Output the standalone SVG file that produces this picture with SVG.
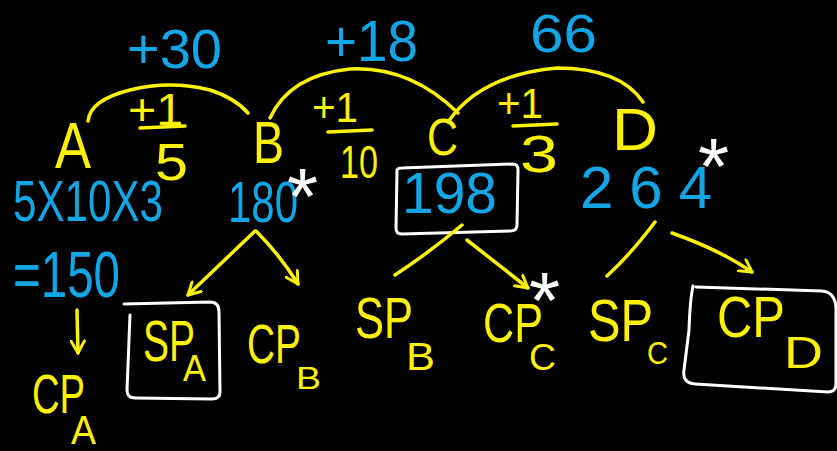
<svg xmlns="http://www.w3.org/2000/svg" width="837" height="451" viewBox="0 0 837 451">
  <defs>
    <style>
      .t { font-family: "Liberation Sans", "DejaVu Sans", sans-serif; }
      .y { fill: #FFF200; }
      .b { fill: #12A6E6; }
      .w { fill: #FFFFFF; }
      .star { font-size: 80px; }
      .ln { fill: none; stroke: #FFF200; stroke-width: 3.5; stroke-linecap: round; stroke-linejoin: round; }
      .box { fill: none; stroke: #FFFFFF; stroke-width: 3; stroke-linecap: round; stroke-linejoin: round; }
    </style>
    <marker id="head" viewBox="0 0 12 12" refX="10" refY="6" markerWidth="16" markerHeight="16" markerUnits="userSpaceOnUse" orient="auto">
      <path d="M1,1 L10,6 L1,11" fill="none" stroke="#FFF200" stroke-width="2.2" stroke-linecap="round" stroke-linejoin="round"/>
    </marker>
  </defs>

  <rect width="837" height="451" fill="#000000"/>

  <!-- increments written above the arcs -->
  <g id="inc-ab"><text class="t b" x="127" y="68" font-size="56" textLength="95" lengthAdjust="spacingAndGlyphs">+30</text></g>
  <g id="inc-bc"><text class="t b" x="325" y="61" font-size="58" textLength="93" lengthAdjust="spacingAndGlyphs">+18</text></g>
  <g id="inc-cd"><text class="t b" x="530" y="52" font-size="54" textLength="67" lengthAdjust="spacingAndGlyphs">66</text></g>

  <!-- persons and ratios -->
  <g id="node-a"><text class="t y" x="55" y="168" font-size="64" textLength="36" lengthAdjust="spacingAndGlyphs">A</text></g>
  <g id="ratio-ab">
    <text class="t y" x="128" y="125" font-size="44" textLength="55" lengthAdjust="spacingAndGlyphs">+1</text>
    <path class="ln" d="M140,128 L185,126"/>
    <text class="t y" x="155" y="180" font-size="52" textLength="33" lengthAdjust="spacingAndGlyphs">5</text>
  </g>
  <g id="node-b"><text class="t y" x="253" y="163" font-size="60" textLength="31" lengthAdjust="spacingAndGlyphs">B</text></g>
  <g id="ratio-bc">
    <text class="t y" x="312" y="122" font-size="42" textLength="46" lengthAdjust="spacingAndGlyphs">+1</text>
    <path class="ln" d="M328,132 L372,130"/>
    <text class="t y" x="340" y="178" font-size="46" textLength="38" lengthAdjust="spacingAndGlyphs">10</text>
  </g>
  <g id="node-c"><text class="t y" x="427" y="155" font-size="52" textLength="31" lengthAdjust="spacingAndGlyphs">C</text></g>
  <g id="ratio-cd">
    <text class="t y" x="497" y="118" font-size="42" textLength="46" lengthAdjust="spacingAndGlyphs">+1</text>
    <path class="ln" d="M513,126 L557,124"/>
    <text class="t y" x="520" y="172" font-size="52" textLength="38" lengthAdjust="spacingAndGlyphs">3</text>
  </g>
  <g id="node-d"><text class="t y" x="612" y="150" font-size="60" textLength="46" lengthAdjust="spacingAndGlyphs">D</text></g>

  <!-- values -->
  <g id="val-a">
    <text class="t b" x="13" y="221" font-size="58" textLength="150" lengthAdjust="spacingAndGlyphs">5X10X3</text>
    <text class="t b" x="13" y="297" font-size="64" textLength="107" lengthAdjust="spacingAndGlyphs">=150</text>
  </g>
  <g id="val-b">
    <text class="t b" x="228" y="222" font-size="58" textLength="70" lengthAdjust="spacingAndGlyphs">180</text>
    <text class="t w star" x="287" y="224">*</text>
  </g>
  <g id="val-c">
    <path class="box" d="M397,172 Q396,168 402,168 L513,164 Q518,164 518,170 L517,225 Q517,231 510,231 L402,234 Q396,234 396,228 Z"/>
    <text class="t b" x="402" y="213" font-size="58" textLength="95" lengthAdjust="spacingAndGlyphs">198</text>
  </g>
  <g id="val-d">
    <text class="t b" x="580" y="208" font-size="60" textLength="132" lengthAdjust="spacing">264</text>
    <text class="t w star" x="698" y="194">*</text>
  </g>

  <!-- connectors -->
  <g id="connectors">
    <path class="ln" d="M88,121 Q90,100 130,90 Q170,80 210,90 Q235,98 248,113"/>
    <path class="ln" d="M270,118 Q290,75 350,69 Q410,66 458,113"/>
    <path class="ln" d="M448,122 Q480,75 557,68 Q620,68 643,102"/>
    <path class="ln" d="M255,231 L188,295" marker-end="url(#head)"/>
    <path class="ln" d="M256,231 Q280,255 298,284" marker-end="url(#head)"/>
    <path class="ln" d="M462,225 Q430,252 395,275"/>
    <path class="ln" d="M467,240 L528,288" marker-end="url(#head)"/>
    <path class="ln" d="M655,222 Q630,255 607,276"/>
    <path class="ln" d="M672,233 Q720,250 752,272" marker-end="url(#head)"/>
    <path class="ln" d="M77,310 L78,353" marker-end="url(#head)"/>
  </g>

  <!-- prices -->
  <g id="cp-a">
    <text class="t y" x="32" y="413" font-size="56" textLength="53" lengthAdjust="spacingAndGlyphs">CP</text>
    <text class="t y" x="71" y="444" font-size="40" textLength="25" lengthAdjust="spacingAndGlyphs">A</text>
  </g>
  <g id="sp-a">
    <path class="box" d="M124,304 L210,302 Q219,302 219,312 L220,392 Q220,399 212,399 L135,398 Q127,398 127,390 L130,315"/>
    <text class="t y" x="143" y="361" font-size="58" textLength="52" lengthAdjust="spacingAndGlyphs">SP</text>
    <text class="t y" x="183" y="381" font-size="36" textLength="23" lengthAdjust="spacingAndGlyphs">A</text>
  </g>
  <g id="cp-b">
    <text class="t y" x="247" y="363" font-size="56" textLength="54" lengthAdjust="spacingAndGlyphs">CP</text>
    <text class="t y" x="296" y="389" font-size="32" textLength="25" lengthAdjust="spacingAndGlyphs">B</text>
  </g>
  <g id="sp-b">
    <text class="t y" x="355" y="338" font-size="58" textLength="58" lengthAdjust="spacingAndGlyphs">SP</text>
    <text class="t y" x="406" y="370" font-size="38" textLength="29" lengthAdjust="spacingAndGlyphs">B</text>
  </g>
  <g id="cp-c">
    <text class="t y" x="483" y="342" font-size="56" textLength="60" lengthAdjust="spacingAndGlyphs">CP</text>
    <text class="t y" x="529" y="370" font-size="36" textLength="27" lengthAdjust="spacingAndGlyphs">C</text>
    <text class="t w star" x="529" y="328">*</text>
  </g>
  <g id="sp-c">
    <text class="t y" x="588" y="341" font-size="60" textLength="65" lengthAdjust="spacingAndGlyphs">SP</text>
    <text class="t y" x="647" y="364" font-size="32" textLength="21" lengthAdjust="spacingAndGlyphs">C</text>
  </g>
  <g id="cp-d">
    <path class="box" d="M693,286 Q690,300 689,330 L684,370 Q682,383 695,384 L828,392 Q836,392 836,384 L836,308 Q835,292 822,291 L696,287"/>
    <text class="t y" x="717" y="337" font-size="58" textLength="68" lengthAdjust="spacingAndGlyphs">CP</text>
    <text class="t y" x="784" y="368" font-size="44" textLength="39" lengthAdjust="spacingAndGlyphs">D</text>
  </g>
</svg>
